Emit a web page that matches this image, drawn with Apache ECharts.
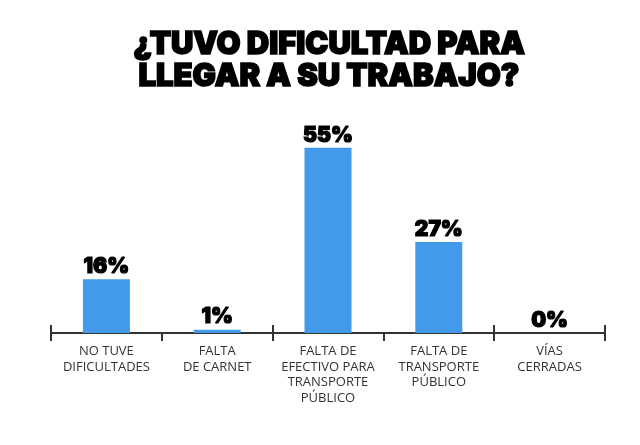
<!DOCTYPE html>
<html lang="es">
<head>
    <meta charset="UTF-8">
    <title>dificultad</title>
    <script src="https://cdn.jsdelivr.net/npm/echarts@6/dist/echarts.min.js"></script>
    <style>
        html, body { margin: 0; padding: 0; background: #fff; }
    </style>
</head>
<body>
<div id="main" style="width: 640px; height: 445px"></div>

<script>
    var categories = ['NO TUVE\nDIFICULTADES', 'FALTA\nDE CARNET', 'FALTA DE\nEFECTIVO PARA\nTRANSPORTE\nPÚBLICO', 'FALTA DE\nTRANSPORTE\nPÚBLICO', 'VÍAS\nCERRADAS'];
    var values = [16, 1, 55, 27, 0];

    var myChart = echarts.init(document.getElementById('main'));

    var option = {
        animation: false,
        title: {
            text: '¿TUVO DIFICULTAD PARA\nLLEGAR A SU TRABAJO?',
            left: 324,
            textAlign: 'center',
            top: 24,
            textStyle: {
                fontFamily: 'Inter',
                fontWeight: 900,
                fontSize: 31,
                lineHeight: 32,
                color: '#000',
                textBorderColor: '#000',
                textBorderWidth: 1.6
            }
        },
        grid: {
            left: 51,
            right: 35,
            top: 131,
            bottom: 112
        },
        xAxis: [
            {
                type: 'category',
                data: categories,
                axisLine: { lineStyle: { color: '#333', width: 2 } },
                axisTick: { show: true, length: 8, lineStyle: { color: '#333', width: 2 } },
                axisLabel: {
                    fontFamily: 'Open Sans',
                    fontSize: 13,
                    lineHeight: 15.5,
                    color: '#333',
                    margin: 11,
                    interval: 0
                }
            },
            {
                type: 'category',
                position: 'bottom',
                data: categories,
                axisLine: { show: false },
                axisTick: { show: true, inside: true, length: 8, lineStyle: { color: '#333', width: 2 } },
                axisLabel: { show: false }
            }
        ],
        yAxis: {
            type: 'value',
            min: 0,
            max: 60,
            show: false,
            splitLine: { show: false }
        },
        series: [
            {
                type: 'bar',
                data: values,
                barWidth: 47,
                itemStyle: { color: '#4399EA' },
                label: {
                    show: true,
                    position: 'top',
                    distance: 2,
                    formatter: '{c}%',
                    fontFamily: 'Inter',
                    fontWeight: 900,
                    fontSize: 21,
                    color: '#000',
                    textBorderColor: '#000',
                    textBorderWidth: 1.2
                }
            }
        ]
    };

    myChart.setOption(option);
</script>
</body>
</html>
